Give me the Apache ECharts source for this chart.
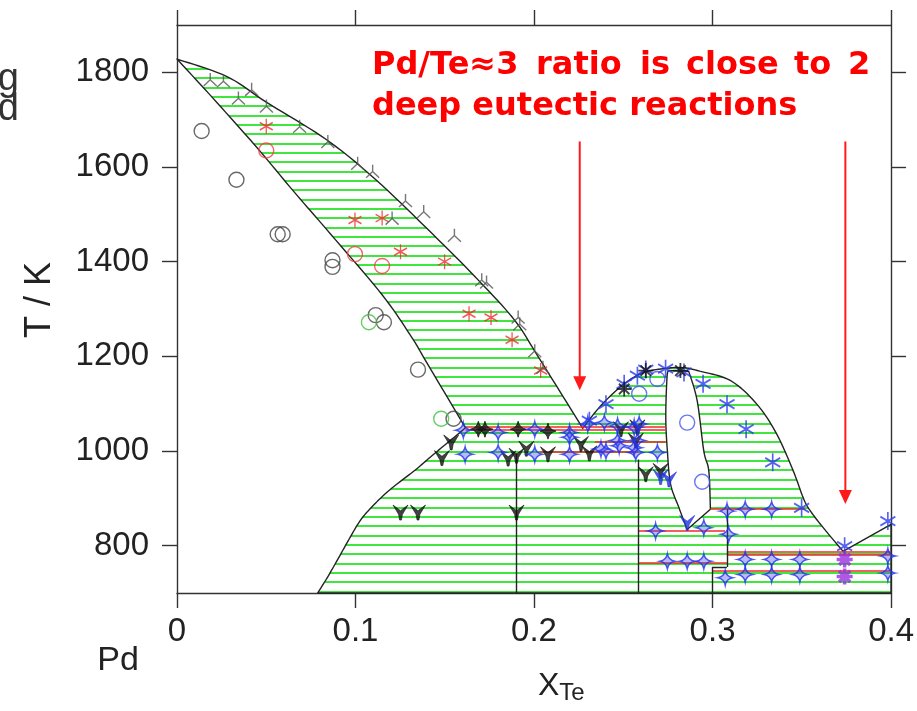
<!DOCTYPE html>
<html><head><meta charset="utf-8">
<script src="https://cdn.jsdelivr.net/npm/echarts@6/dist/echarts.min.js"></script>
<style>html,body{margin:0;padding:0;background:#fff}#c{width:917px;height:711px}</style>
</head><body><div id="c"></div>
<script>
// ---- axis ticks ----
const xTicks = [0, 0.1, 0.2, 0.3, 0.4];
const yTicks = [800, 1000, 1200, 1400, 1600, 1800];

// ---- phase boundaries (x_Te, T/K) ----
const liquidusPd = [[0,1828],[0.028,1791],[0.05,1737],[0.0836,1658],[0.1114,1573],[0.1465,1446],[0.1688,1361],[0.1892,1276],[0.2022,1200],[0.2273,1048]];
const compoundLiquidus = [[0.2273,1048],[0.2375,1096],[0.2505,1142],[0.2617,1166],[0.2747,1175],[0.284,1176],[0.2914,1170],[0.3099,1149],[0.3248,1099],[0.3359,1036],[0.3452,958],[0.3508,901],[0.3545,875],[0.362,838],[0.3731,788]];
const teLiquidus = [[0.3731,788],[0.4,845]];
const rightEdge = [[0.4,845],[0.4,700],[0.0788,700]];
const solvus = [[0.0788,700],[0.0852,739],[0.0936,795],[0.1001,838],[0.104,860],[0.1087,880],[0.1145,902],[0.1215,925],[0.1335,960],[0.1428,990],[0.153,1022],[0.1616,1049]];
const solidusPd = [[0.1616,1049],[0.14,1186],[0.1315,1240],[0.1149,1330],[0.0861,1458],[0.065,1550],[0.045,1640],[0.02,1746],[0,1828]];
const lensLeft = [[0.2755,1170],[0.2745,1156],[0.2738,1071],[0.2747,1000],[0.2765,930],[0.2812,880],[0.2858,834]];
const lensBottom = [[0.2858,834],[0.2988,877]];
const lensRight = [[0.2988,877],[0.2979,958],[0.2951,1000],[0.2914,1106],[0.2867,1168]];
// black boundary segments [x1,T1,x2,T2]
const blackSegments = [[0.1902,700,0.1902,995],[0.2585,700,0.2585,982],[0.308,877,0.308,755],[0.308,755,0.2997,755],[0.2997,755,0.2997,700]];
// red invariant lines [x1,x2,T]
const redLines = [[0.1616,0.2737,1052],[0.1616,0.2737,1044],[0.234,0.2737,1020],[0.203,0.2585,998],[0.2585,0.307,831],[0.2585,0.308,764],[0.2988,0.352,877],[0.308,0.4,788],[0.308,0.4,781],[0.2997,0.4,746]];

// ---- experimental points ----
const circBlack = [[0.0138,1676],[0.0333,1573],[0.0564,1458],[0.0592,1458],[0.0871,1403],[0.0871,1389],[0.1113,1287],[0.1159,1272],[0.135,1172],[0.1549,1068]];
const circGreen = [[0.1075,1272],[0.148,1068]];
const circRed = [[0.05,1635],[0.0997,1416],[0.1149,1391]];
const astRed = [[0.05,1686],[0.0997,1488],[0.1149,1492],[0.1252,1421],[0.1499,1400],[0.1636,1290],[0.1759,1282],[0.1877,1235],[0.2037,1170]];
const triBlack = [[0.0186,1785],[0.026,1782],[0.0344,1746],[0.0418,1764],[0.0501,1729],[0.0687,1686],[0.0845,1654],[0.1012,1608],[0.1096,1591],[0.128,1529],[0.1382,1506],[0.1205,1492],[0.1554,1456],[0.1707,1362],[0.1734,1357],[0.1911,1283],[0.192,1269],[0.2004,1212],[0.205,1177]];
const arrowBlack = [[0.1252,870],[0.135,870],[0.1902,870],[0.1536,1018],[0.1484,985],[0.1855,984],[0.1902,990],[0.1957,1005],[0.2078,993],[0.2263,1015],[0.231,995],[0.2487,1046],[0.2579,1050],[0.257,1022],[0.2626,951],[0.2709,958]];
const arrowBlue = [[0.2709,945],[0.2756,940],[0.2858,848]];
const star4Black = [[0.1688,1046],[0.1725,1046],[0.1911,1046],[0.2078,1042]];
const star4Blue = [[0.1604,1044],[0.1799,1039],[0.2004,1046],[0.2199,1039],[0.2301,1057],[0.2394,1060],[0.2468,1053],[0.2561,1050],[0.2589,1057],[0.1614,993],[0.1799,997],[0.2004,993],[0.2199,993],[0.2199,1029],[0.2375,1004],[0.2403,1000],[0.2468,1022],[0.2477,1011],[0.2561,1007],[0.2579,1022],[0.257,997],[0.2691,997],[0.3081,873],[0.3183,877],[0.3331,877],[0.2681,831],[0.2951,838],[0.309,824],[0.2747,767],[0.2858,767],[0.2951,767],[0.3183,771],[0.3331,771],[0.3489,771],[0.3071,732],[0.3183,739],[0.3331,739],[0.3489,739],[0.3982,778],[0.3982,742]];
const astBlue = [[0.231,1064],[0.2403,1099],[0.2505,1142],[0.2579,1159],[0.2626,1172],[0.2737,1174],[0.284,1166],[0.2947,1142],[0.3081,1099],[0.3188,1046],[0.3337,976],[0.3499,880],[0.374,799],[0.3982,852]];
const astBlack = [[0.2505,1131],[0.2626,1170],[0.282,1170]];
const circBlue = [[0.2589,1121],[0.2691,1152],[0.2858,1060],[0.2942,935]];
const astPurple = [[0.374,771],[0.374,735]];

// ---- annotation ----
const noteLine1 = ['Pd/Te≈3','ratio','is','close','to','2'];
const noteLine2 = 'deep eutectic reactions';
const arrows = [[0.2256,1654,1128],[0.3744,1654,888]];

// hatch pattern (style only)
function makeHatch(){
  const c=document.createElement('canvas'); c.width=8; c.height=28;
  const g=c.getContext('2d'); g.fillStyle='#3ee63e';
  [3,12,21].forEach(y=>g.fillRect(0,y,8,2));
  return c;
}
const hatch = {image: makeHatch(), repeat: 'repeat'};

// Catmull-Rom curve through projected points (rendering of a smooth boundary)
function curve(px, n){
  if (px.length < 3) return px.slice();
  const out=[];
  for(let i=0;i<px.length-1;i++){
    const p0=px[Math.max(i-1,0)], p1=px[i], p2=px[i+1], p3=px[Math.min(i+2,px.length-1)];
    for(let k=0;k<n;k++){
      const t=k/n, t2=t*t, t3=t2*t;
      const f=j=>0.5*((2*p1[j])+(-p0[j]+p2[j])*t+(2*p0[j]-5*p1[j]+4*p2[j]-p3[j])*t2+(-p0[j]+3*p1[j]-3*p2[j]+p3[j])*t3);
      out.push([f(0),f(1)]);
    }
  }
  out.push(px[px.length-1]);
  return out;
}
function shape(api, parts){
  let pts=[];
  parts.forEach(([arr,smooth])=>{
    const px=arr.map(q=>api.coord(q));
    pts = pts.concat(smooth ? curve(px,10) : px);
  });
  return pts;
}

const P = {
  ast6: 'path://M5 0L5 10M0.67 2.5L9.33 7.5M0.67 7.5L9.33 2.5',
  ast8: 'path://M5 0L5 10M0 5L10 5M1.5 1.5L8.5 8.5M1.5 8.5L8.5 1.5',
  tri: 'path://M5 0L5 5M5 5L0.7 9.5M5 5L9.3 9.5',
  star4: 'path://M5 0Q5.8 4.2 10 5Q5.8 5.8 5 10Q4.2 5.8 0 5Q4.2 4.2 5 0Z',
  arrowY: 'path://M0 0L5 3.8L10 0L6.3 6.2L5.6 10L4.4 10L3.7 6.2Z'
};

function scatter(data, symbol, size, style, z){
  return {type:'scatter', data, symbol, symbolSize:size, itemStyle:style, silent:true, z:z||5, animation:false};
}

const series = [
  {type:'custom', coordinateSystem:'cartesian2d', data:[[0,700]], z:1, silent:true, animation:false,
   renderItem:(p,api)=>({type:'polygon', shape:{points: shape(api,[[liquidusPd,true],[compoundLiquidus,true],[teLiquidus,false],[rightEdge,false],[solvus,true],[solidusPd,true]])},
     style:{fill:hatch, stroke:'#222', lineWidth:1.4, lineJoin:'round'}})},
  {type:'custom', coordinateSystem:'cartesian2d', data:[[0,700]], z:2, silent:true, animation:false,
   renderItem:(p,api)=>({type:'polygon', shape:{points: shape(api,[[lensLeft,true],[lensBottom,false],[lensRight,true]])},
     style:{fill:'#fff', stroke:'#222', lineWidth:1.4, lineJoin:'round'}})},
  {type:'lines', coordinateSystem:'cartesian2d', z:3, silent:true, animation:false,
   lineStyle:{color:'#ef2b2b', width:1.6, opacity:1},
   data: redLines.map(r=>({coords:[[r[0],r[2]],[r[1],r[2]]]}))},
  {type:'lines', coordinateSystem:'cartesian2d', z:4, silent:true, animation:false,
   lineStyle:{color:'#222', width:1.4, opacity:1},
   data: blackSegments.map(s=>({coords:[[s[0],s[1]],[s[2],s[3]]]}))},
  scatter(circBlack,'circle',15,{color:'transparent',borderColor:'#444',borderWidth:1.4}),
  scatter(circGreen,'circle',15,{color:'transparent',borderColor:'#40c040',borderWidth:1.4}),
  scatter(circRed,'circle',15,{color:'transparent',borderColor:'#f04040',borderWidth:1.4}),
  scatter(circBlue,'circle',15,{color:'transparent',borderColor:'#4455ee',borderWidth:1.4}),
  scatter(astRed,P.ast6,[13,15],{color:'transparent',borderColor:'#f02a2a',borderWidth:1.4}),
  scatter(triBlack,P.tri,13,{color:'transparent',borderColor:'#555',borderWidth:1.4}),
  scatter(arrowBlack,P.arrowY,15,{color:'#111',borderColor:'#111',borderWidth:0.8},6),
  scatter(arrowBlue,P.arrowY,15,{color:'#2233dd',borderColor:'#2233dd',borderWidth:0.8},6),
  scatter(star4Black,P.star4,16,{color:'#111',borderColor:'#111',borderWidth:1},6),
  scatter(star4Blue,P.star4,15,{color:'rgba(60,60,240,0.45)',borderColor:'#1f2fee',borderWidth:1.5},6),
  scatter(astBlue,P.ast6,[15,18],{color:'transparent',borderColor:'#2a3aee',borderWidth:1.8},6),
  scatter(astBlack,P.ast8,15,{color:'transparent',borderColor:'#111',borderWidth:1.8},6),
  scatter(astPurple,P.ast8,16,{color:'transparent',borderColor:'#9a2ee0',borderWidth:3.5},7)
];
arrows.forEach(a=>{
  series.push({type:'line', silent:true, animation:false, z:8,
    lineStyle:{color:'#ff1a1a', width:2},
    data:[{value:[a[0],a[1]], symbol:'none'},
          {value:[a[0],a[2]+15], symbol:'triangle', symbolSize:[13,14], symbolRotate:180, itemStyle:{color:'#ff1a1a'}}]});
});

const axisLine = {show:true, onZero:false, lineStyle:{color:'#333', width:1.4}};
const tick = {show:true, inside:false, length:15, lineStyle:{color:'#333', width:1.4}};
const lblFont = {color:'#222', fontSize:33, fontFamily:'Liberation Sans'};
const noteFont = 'bold 32px "DejaVu Sans"';

const graphics = [
  {type:'text', x:19, y:80, style:{text:'g', font:'38px "Liberation Sans"', fill:'#333', textAlign:'right', textVerticalAlign:'middle'}},
  {type:'text', x:19, y:110, style:{text:'d', font:'38px "Liberation Sans"', fill:'#333', textAlign:'right', textVerticalAlign:'middle'}},
  {type:'text', x:40, y:300, rotation:Math.PI/2, style:{text:'T / K', font:'36px "Liberation Sans"', fill:'#222', textAlign:'center', textVerticalAlign:'middle'}},
  {type:'text', x:118, y:661, style:{text:'Pd', font:'34px "Liberation Sans"', fill:'#222', textAlign:'center', textVerticalAlign:'middle'}},
  {type:'text', x:538, y:686, style:{text:'{a|X}{b|Te}', rich:{a:{fontSize:32,fontFamily:'Liberation Sans',fill:'#222'}, b:{fontSize:24,fontFamily:'Liberation Sans',fill:'#222',padding:[14,0,0,0]}}, textVerticalAlign:'middle'}},
  {type:'text', x:372, y:91, style:{text:noteLine2, font:noteFont, fill:'#ff0000', textAlign:'left', textVerticalAlign:'top'}}
];
const wordX = [372,536,640,686,794,848];
noteLine1.forEach((w,i)=>graphics.push({type:'text', x:wordX[i], y:50, style:{text:w, font:noteFont, fill:'#ff0000', textAlign:'left', textVerticalAlign:'top'}}));

const chart = echarts.init(document.getElementById('c'), null, {renderer:'canvas'});
chart.setOption({
  animation:false,
  backgroundColor:'#fff',
  grid:{left:177, right:22, top:25, bottom:118, containLabel:false},
  xAxis:[
    {type:'value', position:'bottom', min:0, max:0.4, interval:0.1, axisLine, axisTick:tick, splitLine:{show:false},
     axisLabel:Object.assign({margin:22, formatter:v=>String(+(+v).toFixed(1))}, lblFont)},
    {type:'value', position:'top', min:0, max:0.4, interval:0.1, axisLine, axisTick:tick, splitLine:{show:false}, axisLabel:{show:false}}
  ],
  yAxis:[
    {type:'value', position:'left', min:700, max:1900, axisLine, splitLine:{show:false},
     axisTick:Object.assign({customValues:yTicks}, tick),
     axisLabel:Object.assign({margin:28, customValues:yTicks, formatter:v=>String(v)}, lblFont)},
    {type:'value', position:'right', min:700, max:1900, axisLine, splitLine:{show:false},
     axisTick:Object.assign({customValues:yTicks}, tick), axisLabel:{show:false}}
  ],
  series,
  graphic: graphics
});
</script></body></html>
